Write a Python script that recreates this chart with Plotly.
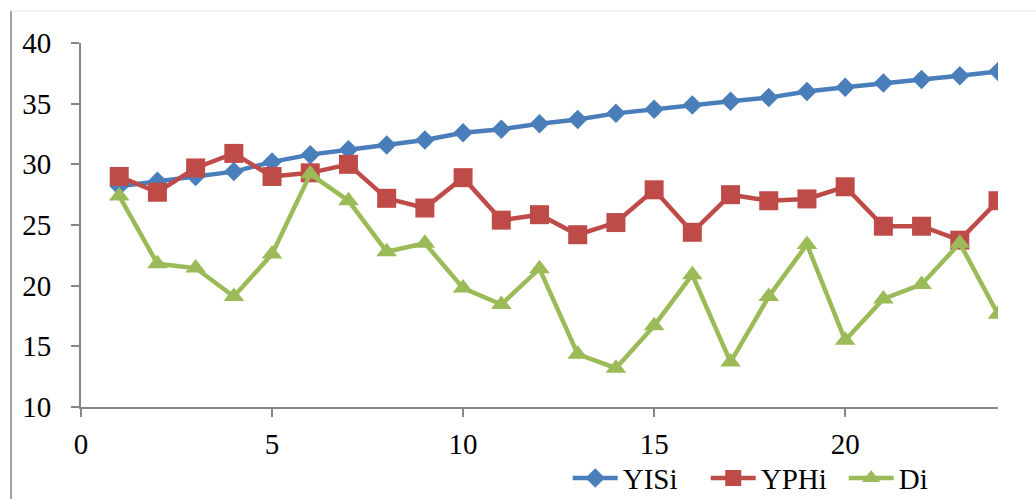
import plotly.graph_objects as go

x = list(range(1, 25))
yisi = [28.2, 28.6, 29.0, 29.4, 30.2, 30.8, 31.2, 31.6, 32.0, 32.6, 32.9, 33.35,
        33.7, 34.2, 34.55, 34.9, 35.2, 35.5, 36.0, 36.35, 36.7, 37.0, 37.3, 37.65]
yphi = [29.0, 27.7, 29.7, 30.9, 29.0, 29.3, 30.0, 27.2, 26.4, 28.9, 25.4, 25.85,
        24.2, 25.2, 27.9, 24.4, 27.5, 27.0, 27.15, 28.15, 24.9, 24.9, 23.75, 27.0]
di = [27.4, 21.8, 21.45, 19.1, 22.6, 29.2, 27.0, 22.8, 23.5, 19.8, 18.45, 21.4,
      14.35, 13.2, 16.7, 20.9, 13.7, 19.1, 23.4, 15.5, 18.9, 20.1, 23.5, 17.65]

series = [
    ("YISi", yisi, "#4A7EBB", "diamond", 15),
    ("YPHi", yphi, "#BE4B48", "square", 19),
    ("Di", di, "#9BBB59", "triangle-up", 18),
]

fig = go.Figure()
for name, ys, col, sym, sz in series:
    fig.add_trace(go.Scatter(
        x=x, y=ys, name=name, mode="lines+markers",
        line=dict(color=col, width=4.5),
        marker=dict(symbol=sym, size=sz, color=col, line=dict(width=0)),
    ))

font = dict(family="Liberation Serif, Times New Roman, serif", size=29, color="black")
axis_common = dict(showgrid=False, zeroline=False, showline=True,
                   linecolor="#868686", linewidth=2, ticks="outside",
                   tickcolor="#868686", tickwidth=2, ticklen=8,
                   tickfont=font, automargin=False)

fig.update_layout(
    width=1036, height=499,
    margin=dict(l=81, r=38, t=43, b=92),
    paper_bgcolor="white", plot_bgcolor="white",
    font=font,
    xaxis=dict(range=[0, 24], tickvals=[0, 5, 10, 15, 20], ticklabelstandoff=2, **axis_common),
    yaxis=dict(range=[10, 40], dtick=5, ticklabelstandoff=14, **axis_common),
    legend=dict(orientation="h", xref="container", yref="container",
                x=0.548, xanchor="left", y=0.042, yanchor="middle",
                font=font, bgcolor="rgba(0,0,0,0)", itemwidth=45,
                entrywidth=78, entrywidthmode="pixels",
                tracegroupgap=0),
    showlegend=True,
    shapes=[
        dict(type="line", xref="paper", yref="paper",
             x0=(11 - 81) / 917, x1=(11 - 81) / 917,
             y0=(407 - 499) / 364, y1=(407 - 11) / 364,
             line=dict(color="#A0A0A0", width=2)),
        dict(type="line", xref="paper", yref="paper",
             x0=(11 - 81) / 917, x1=(1036 - 81) / 917,
             y0=(407 - 11) / 364, y1=(407 - 11) / 364,
             line=dict(color="#E6E6E6", width=1)),
    ],
)

fig.write_html("out.html", config={"displayModeBar": False},
               post_script="document.body.style.margin='0';")
